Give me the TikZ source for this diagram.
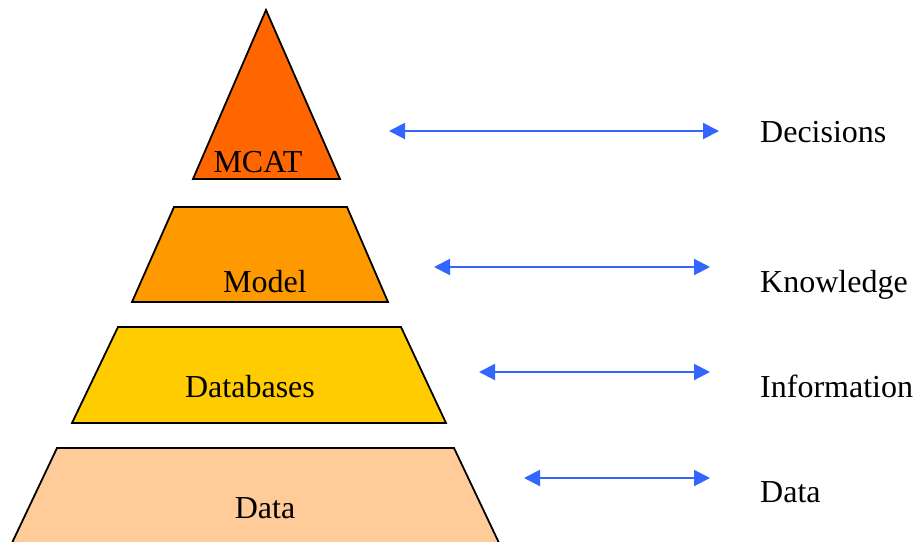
\documentclass[tikz,border=0pt]{standalone}
\usepackage{fontspec}
\setmainfont{Liberation Serif}
\usetikzlibrary{arrows.meta}
\definecolor{tierA}{HTML}{FF6600}
\definecolor{tierB}{HTML}{FF9900}
\definecolor{tierC}{HTML}{FFCC00}
\definecolor{tierD}{HTML}{FFCC99}
\definecolor{linkblue}{HTML}{3366FF}
\begin{document}
\begin{tikzpicture}[x=1pt,y=-1pt,
  tier/.style={draw=black,line width=1.8pt,line join=miter},
  lbl/.style={inner sep=0pt,anchor=base,font=\fontsize{32}{38}\selectfont},
  side/.style={inner sep=0pt,anchor=base west,font=\fontsize{32}{38}\selectfont},
  link/.style={draw=linkblue,line width=2pt,
    {Triangle[length=16pt,width=16pt]}-{Triangle[length=16pt,width=16pt]}}]
\useasboundingbox (0,0) rectangle (923,541);
\clip (0,0) rectangle (923,541);
% pyramid tiers
\path[tier,fill=tierA] (266,10) -- (340,179) -- (193,179) -- cycle;
\path[tier,fill=tierB] (174,207) -- (347,207) -- (388,302) -- (132,302) -- cycle;
\path[tier,fill=tierC] (118,327) -- (401,327) -- (446,423) -- (72,423) -- cycle;
\path[tier,fill=tierD] (57,448) -- (454,448) -- (500,545) -- (11,545) -- cycle;
% tier labels
\node[lbl] (mcat) at (258,172) {MCAT};
\node[lbl] (model) at (265,292) {Model};
\node[lbl] (dbs) at (250,397) {Databases};
\node[lbl] (data) at (265,518) {Data};
% level labels
\node[side] (dec) at (760,142) {Decisions};
\node[side] (know) at (760,292) {Knowledge};
\node[side] (info) at (760,397) {Information};
\node[side] (raw) at (760,502) {Data};
% arrow ends
\coordinate (a1) at (389,131); \coordinate (b1) at (719,131);
\coordinate (a2) at (434,267); \coordinate (b2) at (710,267);
\coordinate (a3) at (479,372); \coordinate (b3) at (710,372);
\coordinate (a4) at (524,478); \coordinate (b4) at (710,478);
\draw[link] (a1) -- (b1);
\draw[link] (a2) -- (b2);
\draw[link] (a3) -- (b3);
\draw[link] (a4) -- (b4);
\end{tikzpicture}
\end{document}
